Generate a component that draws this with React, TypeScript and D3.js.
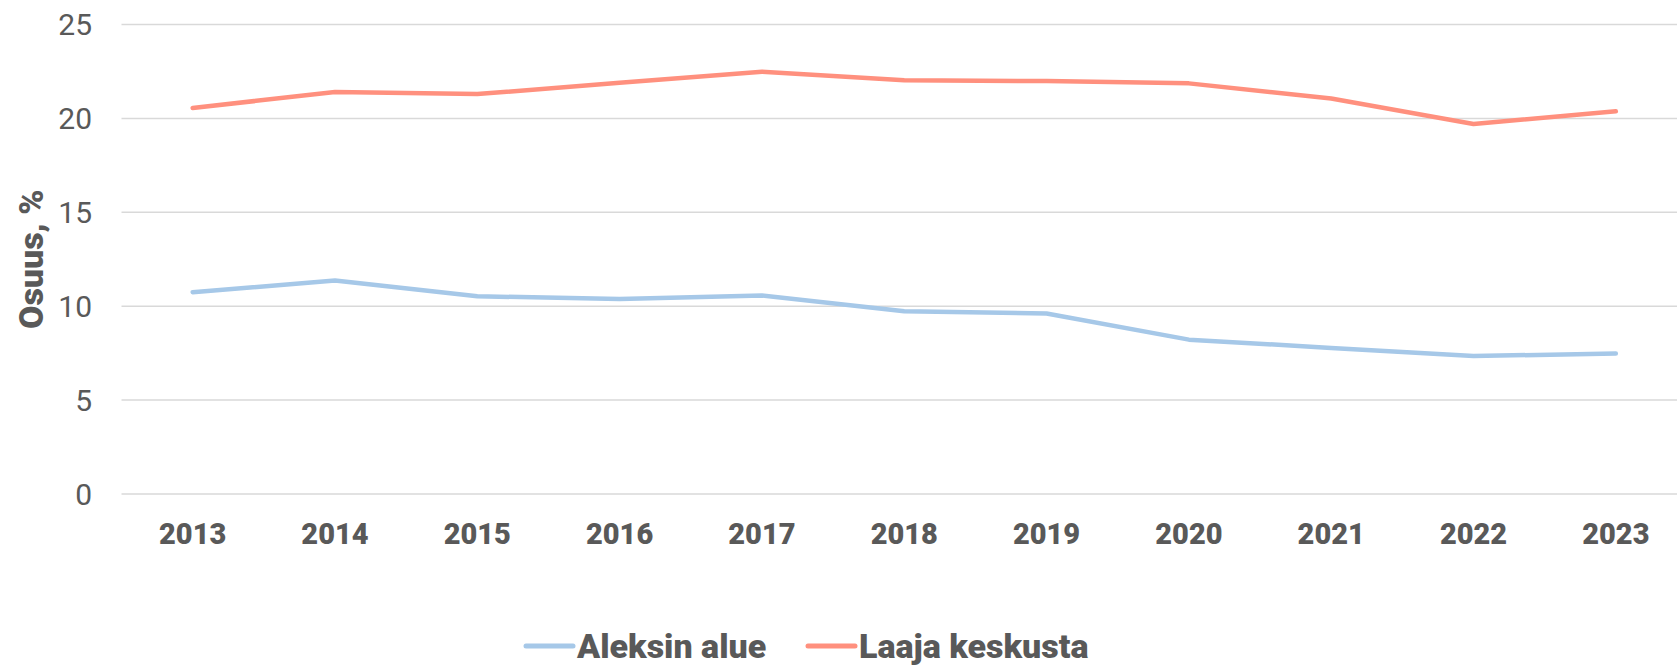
import React, { useEffect, useRef } from 'react';
import * as d3 from 'd3';

const years = ['2013', '2014', '2015', '2016', '2017', '2018', '2019', '2020', '2021', '2022', '2023'];
const aleksinAlue = [10.75, 11.37, 10.53, 10.39, 10.57, 9.73, 9.61, 8.22, 7.78, 7.35, 7.48];
const laajaKeskusta = [20.56, 21.41, 21.3, 21.9, 22.49, 22.04, 21.99, 21.87, 21.06, 19.71, 20.38];
const yTicks = [0, 5, 10, 15, 20, 25];

const seriesList = [
  { name: 'Aleksin alue', values: aleksinAlue, color: '#A6C8E8' },
  { name: 'Laaja keskusta', values: laajaKeskusta, color: '#FF907E' },
];

const App = () => {
  const svgRef = useRef<SVGSVGElement>(null);

  useEffect(() => {
    const svg = d3.select(svgRef.current);
    svg.selectAll('*').remove();

    const width = 1677,
      height = 667;
    const font = 'Roboto, "Liberation Sans", sans-serif';
    const textColor = '#595959';

    const x = d3.scaleBand().domain(years).range([121.5, 1687]);
    const y = d3.scaleLinear().domain([0, 25]).range([494, 24.6]);

    svg.attr('width', width).attr('height', height);

    // gridlines
    svg
      .append('g')
      .selectAll('line')
      .data(yTicks)
      .enter()
      .append('line')
      .attr('x1', 121.5)
      .attr('x2', width)
      .attr('y1', d => y(d))
      .attr('y2', d => y(d))
      .attr('stroke', '#D9D9D9')
      .attr('stroke-width', 1.5);

    // y labels
    svg
      .append('g')
      .selectAll('text')
      .data(yTicks)
      .enter()
      .append('text')
      .attr('x', 92)
      .attr('y', d => y(d))
      .attr('dy', '0.35em')
      .attr('text-anchor', 'end')
      .attr('font-family', font)
      .attr('font-size', 30)
      .attr('fill', textColor)
      .text(d => d);

    // x labels
    svg
      .append('g')
      .selectAll('text')
      .data(years)
      .enter()
      .append('text')
      .attr('x', d => x(d)! + x.bandwidth() / 2)
      .attr('y', 544)
      .attr('text-anchor', 'middle')
      .attr('font-family', font)
      .attr('font-weight', 900)
      .attr('font-size', 29)
      .attr('fill', textColor)
      .text(d => d);

    // y axis title
    svg
      .append('text')
      .attr('transform', `translate(43,${y(12.5)}) rotate(-90)`)
      .attr('text-anchor', 'middle')
      .attr('font-family', font)
      .attr('font-weight', 900)
      .attr('font-size', 34)
      .attr('fill', textColor)
      .text('Osuus, %');

    const line = d3
      .line<number>()
      .x((d, i) => x(years[i])! + x.bandwidth() / 2)
      .y(d => y(d));

    svg
      .append('g')
      .selectAll('path')
      .data(seriesList)
      .enter()
      .append('path')
      .attr('d', d => line(d.values))
      .attr('fill', 'none')
      .attr('stroke', d => d.color)
      .attr('stroke-width', 4.5)
      .attr('stroke-linejoin', 'round')
      .attr('stroke-linecap', 'round');

    // legend
    const legendX = [526, 808];
    const legend = svg
      .append('g')
      .selectAll('g')
      .data(seriesList)
      .enter()
      .append('g')
      .attr('transform', (d, i) => `translate(${legendX[i]},646)`);

    legend
      .append('line')
      .attr('x1', 0)
      .attr('x2', 47)
      .attr('stroke', d => d.color)
      .attr('stroke-width', 5)
      .attr('stroke-linecap', 'round');

    legend
      .append('text')
      .attr('x', 51)
      .attr('dy', '0.36em')
      .attr('font-family', font)
      .attr('font-weight', 900)
      .attr('font-size', 34)
      .attr('fill', textColor)
      .text(d => d.name);
  }, []);

  return <svg ref={svgRef} style={{ position: 'absolute', left: 0, top: 0 }} />;
};

export default App;
